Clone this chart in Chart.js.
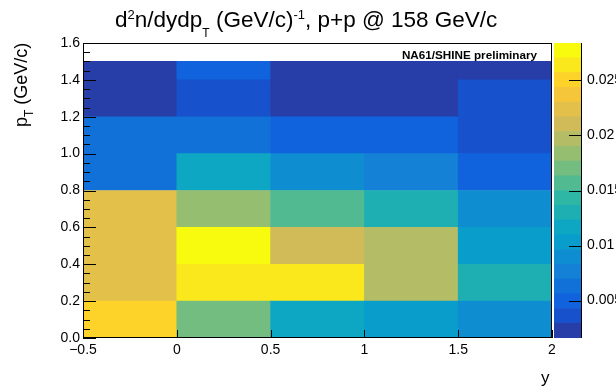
<!DOCTYPE html>
<html>
<head>
<meta charset="utf-8">
<script src="https://cdn.jsdelivr.net/npm/chart.js@4"></script>
<style>
  body { margin: 0; background: #fff; }
  #wrap { position: relative; width: 616px; height: 387px; overflow: hidden; font-family: "Liberation Sans", Arial, sans-serif; color: #000; }
  canvas { position: absolute; top: 0; }
  #mainChart { left: 0; }
  #paletteChart { left: 554px; }
  .txt { position: absolute; white-space: nowrap; }
  #title { left: 115px; top: 9px; font-size: 22.5px; line-height: 22.5px; }
  #title .sup { font-size: 13px; position: relative; top: -8px; }
  #title .sub { font-size: 12px; position: relative; top: 10px; }
  #ytitle { left: 12px; top: 127px; font-size: 18px; line-height: 18px; transform-origin: left top; transform: rotate(-90deg); }
  #ytitle .sub { font-size: 12px; position: relative; top: 6px; }
  #xtitle { left: 541px; top: 369px; font-size: 17px; line-height: 17px; }
  #label { right: 79px; top: 49px; font-size: 11.7px; line-height: 11.7px; font-weight: bold; }
</style>
</head>
<body>
<div id="wrap">
  <canvas id="mainChart" width="560" height="387"></canvas>
  <canvas id="paletteChart" width="62" height="387"></canvas>
  <div class="txt" id="title">d<span class="sup">2</span>n/dydp<span class="sub">T</span> (GeV/c)<span class="sup">-1</span>, p+p @ 158 GeV/c</div>
  <div class="txt" id="ytitle">p<span class="sub">T</span> (GeV/c)</div>
  <div class="txt" id="xtitle">y</div>
  <div class="txt" id="label">NA61/SHINE preliminary</div>
</div>
<script>
// bin edges
const yEdges = [-0.5, 0, 0.5, 1, 1.5, 2];
const ptEdges = [0, 0.2, 0.4, 0.6, 0.8, 1.0, 1.2, 1.4, 1.5];

// d2n/dydpT per pT row (bottom to top), one value per rapidity bin
const row00 = [0.0250, 0.0171, 0.0117, 0.0103, 0.0090];
const row02 = [0.0224, 0.0265, 0.0262, 0.0198, 0.0131];
const row04 = [0.0224, 0.0284, 0.0211, 0.0198, 0.0104];
const row06 = [0.0224, 0.0183, 0.0157, 0.0129, 0.0091];
const row08 = [0.0063, 0.0118, 0.0090, 0.0076, 0.0050];
const row10 = [0.0063, 0.0064, 0.0051, 0.0049, 0.0037];
const row12 = [0.0022, 0.0038, 0.0020, 0.0018, 0.0036];
const row14 = [0.0022, 0.0050, 0.0019, 0.0016, 0.0024];
const rows = [row00, row02, row04, row06, row08, row10, row12, row14];

// tick labels
const xTicks = [-0.5, 0, 0.5, 1, 1.5, 2];
const yTicks = [0, 0.2, 0.4, 0.6, 0.8, 1.0, 1.2, 1.4, 1.6];
const zTicks = [0.005, 0.01, 0.015, 0.02, 0.025];

// colour scale
const zMin = 0.0016;
const zMax = 0.0284;
const nLevels = 20;

// ROOT kBird palette stops
const birdStops = [0, 0.125, 0.25, 0.375, 0.5, 0.625, 0.75, 0.875, 1];
const birdR = [0.2082, 0.0592, 0.0780, 0.0232, 0.1802, 0.5301, 0.8186, 0.9956, 0.9764];
const birdG = [0.1664, 0.3599, 0.5041, 0.6419, 0.7178, 0.7492, 0.7328, 0.7862, 0.9832];
const birdB = [0.5293, 0.8684, 0.8385, 0.7914, 0.6425, 0.4662, 0.3499, 0.1968, 0.0539];

function birdColor(t) {
  let k = 0;
  while (k < birdStops.length - 2 && t > birdStops[k + 1]) k++;
  const f = (t - birdStops[k]) / (birdStops[k + 1] - birdStops[k]);
  const c = (arr) => Math.round(255 * (arr[k] + (arr[k + 1] - arr[k]) * f));
  return `rgb(${c(birdR)}, ${c(birdG)}, ${c(birdB)})`;
}

function levelColor(level) {
  const idx = Math.floor((level + 0.99) * 255 / nLevels);
  return birdColor(idx / 254);
}

function valueColor(z) {
  let level = Math.floor((z - zMin) / (zMax - zMin) * nLevels);
  level = Math.max(0, Math.min(nLevels - 1, level));
  return levelColor(level);
}

const yCenters = yEdges.slice(0, -1).map((e, i) => (e + yEdges[i + 1]) / 2);
Chart.defaults.font.family = '"Liberation Sans", Arial, sans-serif';
Chart.defaults.color = "#000";

// frame and inward tick marks, drawn over the cells like ROOT does
const frameTicks = {
  id: "frameTicks",
  afterDatasetsDraw(chart) {
    const { ctx, chartArea: a, scales } = chart;
    ctx.save();
    ctx.strokeStyle = "#000";
    ctx.lineWidth = 1;
    ctx.strokeRect(Math.round(a.left) + 0.5, Math.round(a.top) + 0.5,
      Math.round(a.right - a.left) - 1, Math.round(a.bottom - a.top) - 1);
    ctx.beginPath();
    for (let i = 0; i <= 32; i++) {
      const py = Math.round(scales.y.getPixelForValue(i * 0.05)) + 0.5;
      const len = i % 4 === 0 ? 13 : 7;
      ctx.moveTo(a.left, py);
      ctx.lineTo(a.left + len, py);
    }
    xTicks.forEach((v) => {
      const px = Math.round(scales.x.getPixelForValue(v)) + 0.5;
      ctx.moveTo(px, a.bottom);
      ctx.lineTo(px, a.bottom - 8);
    });
    ctx.stroke();
    ctx.restore();
  },
};

new Chart(document.getElementById("mainChart"), {
  type: "bar",
  data: {
    datasets: rows.map((vals, r) => ({
      data: yCenters.map((c) => ({ x: c, y: [ptEdges[r], ptEdges[r + 1]] })),
      backgroundColor: vals.map(valueColor),
      borderWidth: 0,
      categoryPercentage: 1,
      barPercentage: 1,
    })),
  },
  options: {
    responsive: false,
    animation: false,
    events: [],
    layout: { padding: { top: 43, right: 8, left: 0, bottom: 0 } },
    plugins: { legend: { display: false }, tooltip: { enabled: false } },
    scales: {
      x: {
        type: "linear",
        min: -0.5,
        max: 2,
        offset: false,
        stacked: true,
        grid: { display: false, drawTicks: false },
        border: { display: false },
        afterBuildTicks: (s) => { s.ticks = xTicks.map((v) => ({ value: v })); },
        afterFit: (s) => { s.height = 49; },
        ticks: {
          padding: 4,
          maxRotation: 0,
          autoSkip: false,
          font: { size: 14 },
          callback: (v) => (v < 0 ? "\u2212" + Math.abs(v) : String(v)),
        },
      },
      y: {
        type: "linear",
        min: 0,
        max: 1.6,
        grid: { display: false, drawTicks: false },
        border: { display: false },
        afterBuildTicks: (s) => { s.ticks = yTicks.map((v) => ({ value: v })); },
        afterFit: (s) => { s.width = 83; },
        ticks: {
          padding: 3,
          autoSkip: false,
          font: { size: 14 },
          callback: (v) => v.toFixed(1),
        },
      },
    },
  },
  plugins: [frameTicks],
});

// colour palette on the right
const paletteAxis = {
  id: "paletteAxis",
  afterDatasetsDraw(chart) {
    const { ctx, chartArea: a, scales } = chart;
    ctx.save();
    ctx.strokeStyle = "#000";
    ctx.lineWidth = 1;
    ctx.beginPath();
    const rx = Math.round(a.right) - 0.5;
    ctx.moveTo(rx, a.top);
    ctx.lineTo(rx, a.bottom);
    zTicks.forEach((v) => {
      const py = Math.round(scales.y.getPixelForValue(v)) + 0.5;
      ctx.moveTo(a.right, py);
      ctx.lineTo(a.right - 13, py);
    });
    ctx.stroke();
    ctx.restore();
  },
};

const dz = (zMax - zMin) / nLevels;
const levels = Array.from({ length: nLevels }, (_, i) => i);

new Chart(document.getElementById("paletteChart"), {
  type: "bar",
  data: {
    labels: [""],
    datasets: levels.map((i) => ({
      data: [[zMin + i * dz, zMin + (i + 1) * dz]],
      backgroundColor: levelColor(i),
      borderWidth: 0,
      categoryPercentage: 1,
      barPercentage: 1,
    })),
  },
  options: {
    responsive: false,
    animation: false,
    events: [],
    layout: { padding: { top: 43, bottom: 49, left: 0, right: 0 } },
    plugins: { legend: { display: false }, tooltip: { enabled: false } },
    scales: {
      x: { display: false, stacked: true },
      y: {
        position: "right",
        min: zMin,
        max: zMax,
        grid: { display: false, drawTicks: false },
        border: { display: false },
        afterBuildTicks: (s) => { s.ticks = zTicks.map((v) => ({ value: v })); },
        afterFit: (s) => { s.width = 34; },
        ticks: {
          padding: 5,
          autoSkip: false,
          font: { size: 14 },
          callback: (v) => String(v),
        },
      },
    },
  },
  plugins: [paletteAxis],
});
</script>
</body>
</html>
